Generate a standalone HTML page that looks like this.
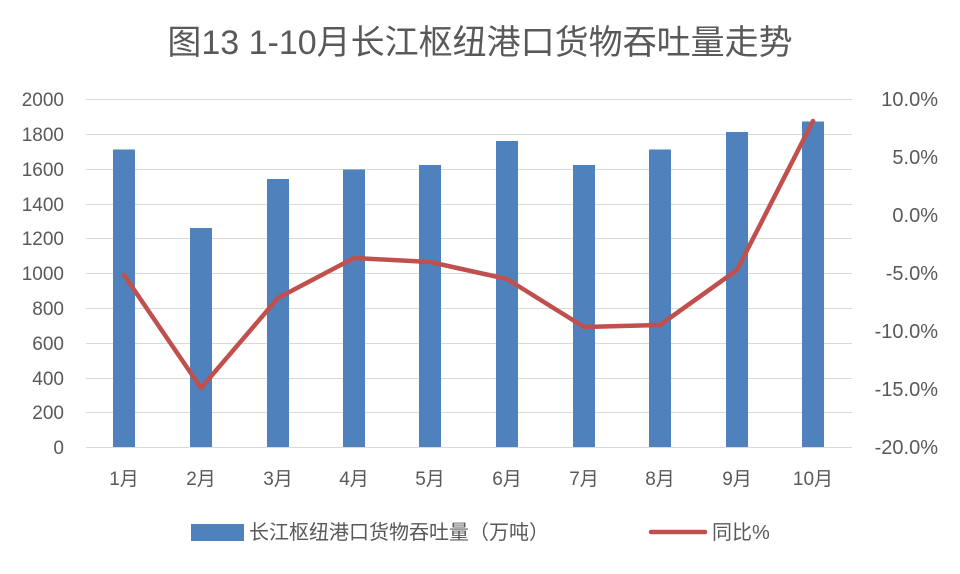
<!DOCTYPE html>
<html><head><meta charset="utf-8"><style>
body{margin:0;background:#fff;}
svg text{font-family:"Liberation Sans","Noto Sans CJK SC",sans-serif;fill:#595959;}
</style></head><body>
<svg width="960" height="569" viewBox="0 0 960 569" xmlns="http://www.w3.org/2000/svg">
<rect width="960" height="569" fill="#fff"/>
<text x="480" y="54" font-size="34" text-anchor="middle">图13  1-10月长江枢纽港口货物吞吐量走势</text>
<g stroke="#d9d9d9" stroke-width="1">
<line x1="86" x2="852" y1="99.5" y2="99.5"/><line x1="86" x2="852" y1="134.5" y2="134.5"/>
<line x1="86" x2="852" y1="169.5" y2="169.5"/><line x1="86" x2="852" y1="204.5" y2="204.5"/>
<line x1="86" x2="852" y1="238.5" y2="238.5"/><line x1="86" x2="852" y1="273.5" y2="273.5"/>
<line x1="86" x2="852" y1="308.5" y2="308.5"/><line x1="86" x2="852" y1="343.5" y2="343.5"/>
<line x1="86" x2="852" y1="378.5" y2="378.5"/><line x1="86" x2="852" y1="412.5" y2="412.5"/>
<line x1="86" x2="852" y1="447.5" y2="447.5"/>
</g>
<g font-size="19" text-anchor="end">
<text x="64" y="106">2000</text><text x="64" y="141">1800</text><text x="64" y="176">1600</text>
<text x="64" y="211">1400</text><text x="64" y="245">1200</text><text x="64" y="280">1000</text>
<text x="64" y="315">800</text><text x="64" y="350">600</text><text x="64" y="385">400</text>
<text x="64" y="419">200</text><text x="64" y="454">0</text>
</g>
<g font-size="20" text-anchor="end">
<text x="938" y="106">10.0%</text><text x="938" y="164">5.0%</text><text x="938" y="222">0.0%</text>
<text x="938" y="280">-5.0%</text><text x="938" y="338">-10.0%</text><text x="938" y="396">-15.0%</text>
<text x="938" y="454">-20.0%</text>
</g>
<g fill="#4f81bd">
<rect x="113" y="149.5" width="22" height="297.5"/>
<rect x="190" y="228" width="22" height="219"/>
<rect x="267" y="179" width="22" height="268"/>
<rect x="343" y="169.5" width="22" height="277.5"/>
<rect x="419" y="165" width="22" height="282"/>
<rect x="496" y="141" width="22" height="306"/>
<rect x="573" y="165" width="22" height="282"/>
<rect x="649" y="149.5" width="22" height="297.5"/>
<rect x="726" y="132" width="22" height="315"/>
<rect x="802" y="121.5" width="22" height="325.5"/>
</g>
<polyline fill="none" stroke="#c0504d" stroke-width="4.5" stroke-linejoin="round" stroke-linecap="round"
points="124,275 201,388 278,298 354,258 430,262 507,279 584,327 660,325 737,270 813,121"/>
<g font-size="19" text-anchor="middle">
<text x="124" y="485">1月</text><text x="201" y="485">2月</text><text x="278" y="485">3月</text>
<text x="354" y="485">4月</text><text x="430" y="485">5月</text><text x="507" y="485">6月</text>
<text x="584" y="485">7月</text><text x="660" y="485">8月</text><text x="737" y="485">9月</text>
<text x="813" y="485">10月</text>
</g>
<rect x="191" y="524" width="53" height="17" fill="#4f81bd"/>
<text x="249" y="539" font-size="20">长江枢纽港口货物吞吐量（万吨）</text>
<line x1="651" x2="705" y1="532" y2="532" stroke="#c0504d" stroke-width="4.5" stroke-linecap="round"/>
<text x="712" y="539" font-size="20">同比%</text>
</svg>
</body></html>
